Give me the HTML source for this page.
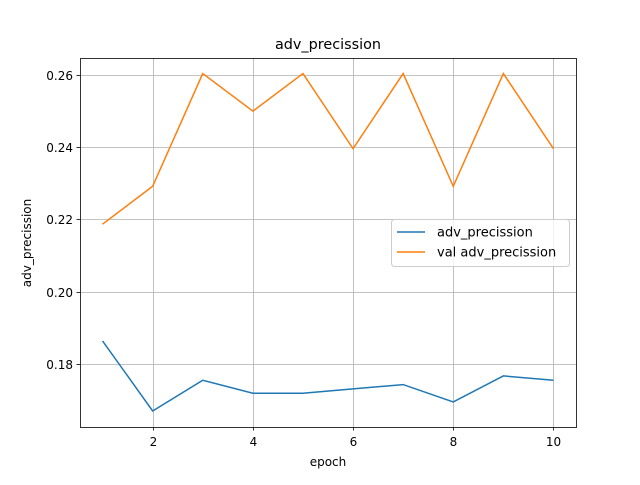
<!DOCTYPE html>
<html><head><meta charset="utf-8"><style>
body{margin:0;background:#fff;}
svg text{font-family:"DejaVu Sans","Liberation Sans",sans-serif;}
</style></head><body>
<svg id="chart" width="640" height="480">
<rect x="0" y="0" width="640" height="480" fill="#fff"/>
<g id="grid"></g>
<g id="series"></g>
<rect x="80.5" y="58.5" width="496" height="369" fill="none" stroke="#000" stroke-width="0.8"/>
<g id="ticks"></g>
<text x="328" y="49" font-size="14.4" text-anchor="middle">adv_precission</text>
<text x="328" y="466" font-size="12" text-anchor="middle">epoch</text>
<text transform="translate(31,243) rotate(-90)" font-size="12" text-anchor="middle">adv_precission</text>
<g>
<rect x="391.5" y="219.5" width="178" height="47" rx="3" fill="#fff" fill-opacity="0.8" stroke="#ccc"/>
<g>
<line x1="397" y1="232" x2="425" y2="232" stroke="#1f77b4" stroke-width="1.5"/>
<text x="437" y="236.5" font-size="13">adv_precission</text></g>
<g>
<line x1="397" y1="252" x2="425" y2="252" stroke="#ff7f0e" stroke-width="1.5"/>
<text x="437" y="256.5" font-size="13">val adv_precission</text></g>
</g>
</svg>
<script>
const epochs=[1,2,3,4,5,6,7,8,9,10];
const trainVals=[0.1864,0.1670,0.1755,0.1719,0.1719,0.1731,0.1743,0.1695,0.1767,0.1755];
const valVals=[0.2187,0.2292,0.2604,0.2500,0.2604,0.2396,0.2604,0.2292,0.2604,0.2396];
const xTicks=[2,4,6,8,10];
const yTicks=[0.18,0.20,0.22,0.24,0.26];
const NS="http://www.w3.org/2000/svg";
function sx(v){return 80+(v-0.55)*(496/9.9);}
function sy(v){return 427-(v-0.16256)*3612.5;}
const grid=document.getElementById('grid'),ticks=document.getElementById('ticks'),ser=document.getElementById('series');
function mk(tag,attrs,parent){const e=document.createElementNS(NS,tag);for(const k in attrs)e.setAttribute(k,attrs[k]);parent.appendChild(e);return e;}
xTicks.forEach(t=>{const x=Math.round(sx(t))+0.5;
const g=mk('line',{x1:x,x2:x,y1:58,y2:427,stroke:'#b0b0b0','stroke-width':0.8},grid);


mk('line',{x1:x,x2:x,y1:427,y2:430.5,stroke:'#000','stroke-width':0.8},ticks);
const tx=mk('text',{x:x,y:446,'font-size':12,'text-anchor':'middle'},ticks);tx.textContent=t;

});
yTicks.forEach(t=>{const y=Math.round(sy(t))+0.5;
const g=mk('line',{x1:80,x2:576,y1:y,y2:y,stroke:'#b0b0b0','stroke-width':0.8},grid);


mk('line',{x1:76.5,x2:80,y1:y,y2:y,stroke:'#000','stroke-width':0.8},ticks);
const tx=mk('text',{x:73,y:y+4.5,'font-size':12,'text-anchor':'end'},ticks);tx.textContent=t.toFixed(2);

});
function line(vals,color,name){const p=mk('polyline',{points:vals.map((v,i)=>sx(epochs[i])+','+sy(v)).join(' '),fill:'none',stroke:color,'stroke-width':1.5},ser);

}
line(trainVals,'#1f77b4','train-line');
line(valVals,'#ff7f0e','val-line');
</script>
</body></html>
